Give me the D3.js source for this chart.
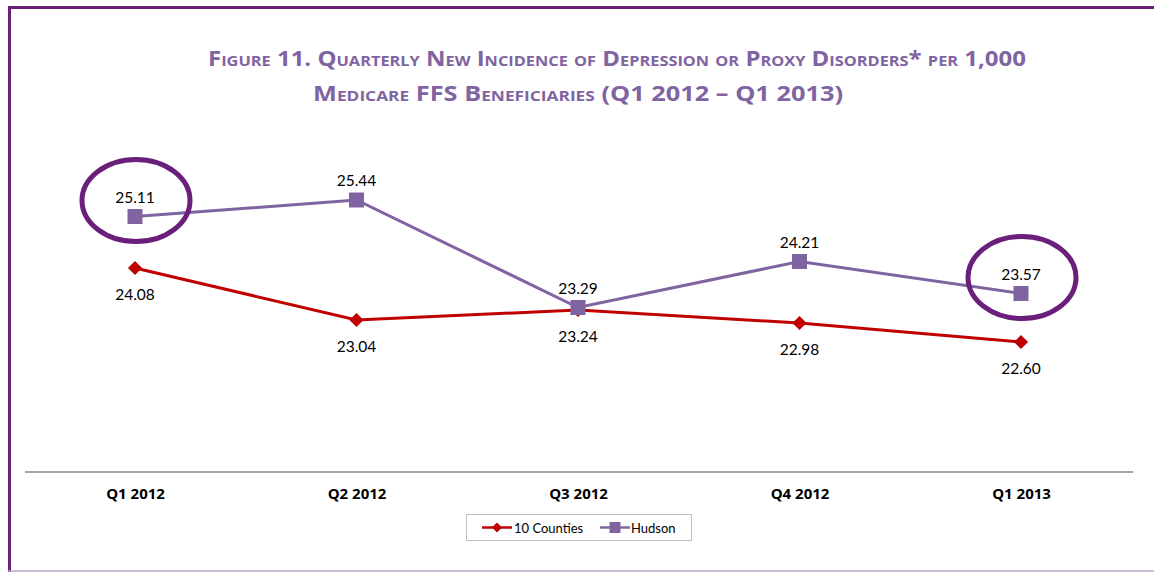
<!DOCTYPE html>
<html>
<head>
<meta charset="utf-8">
<script src="https://cdn.jsdelivr.net/npm/d3@7"></script>
<style>
  body { margin: 0; background: #fff; }
  svg { display: block; font-family: "Lato", "Open Sans", sans-serif; }
</style>
</head>
<body>
<svg width="1154" height="572"></svg>
<script>
var quarters = ["Q1 2012", "Q2 2012", "Q3 2012", "Q4 2012", "Q1 2013"];
var counties = [24.08, 23.04, 23.24, 22.98, 22.60];
var hudson = [25.11, 25.44, 23.29, 24.21, 23.57];
var titleLines = [
  "Figure 11. Quarterly New Incidence of Depression or Proxy Disorders* per 1,000",
  "Medicare FFS Beneficiaries (Q1 2012 \u2013 Q1 2013)"
];
var circled = [0, 4];

var svg = d3.select("svg");
var red = "#c00000", violet = "#8064a2", frame = "#6a1f7a";

// frame
svg.append("line").attr("x1", 8).attr("x2", 1154).attr("y1", 7.5).attr("y2", 7.5)
  .attr("stroke", frame).attr("stroke-width", 3);
svg.append("line").attr("x1", 9.5).attr("x2", 9.5).attr("y1", 6).attr("y2", 572)
  .attr("stroke", frame).attr("stroke-width", 3);
svg.append("line").attr("x1", 8).attr("x2", 1154).attr("y1", 571).attr("y2", 571)
  .attr("stroke", "#b9a3c4").attr("stroke-width", 1.5);

// title
svg.append("g").selectAll("text").data(titleLines).enter().append("text")
  .attr("x", function(d, i) { return i == 0 ? 617 : 578; })
  .attr("y", function(d, i) { return 66 + i * 35; })
  .attr("text-anchor", "middle")
  .attr("fill", violet)
  .attr("font-family", "'Open Sans', sans-serif")
  .attr("font-weight", "bold")
  .attr("font-size", 22)
  .style("font-variant", "small-caps")
  .attr("textLength", function(d, i) { return i == 0 ? 818 : 530; })
  .attr("lengthAdjust", "spacingAndGlyphs")
  .text(function(d) { return d; });

var x = d3.scalePoint().domain(quarters).range([135, 1021]);
var y = d3.scaleLinear().domain([20, 27]).range([472, 122]);

// x axis
var xAxis = svg.append("g").attr("transform", "translate(0,472)")
  .call(d3.axisBottom(x).tickSize(0).tickPadding(16));
xAxis.select(".domain").attr("d", "M25,0H1133").attr("stroke", "#a6a6a6").attr("stroke-width", 2);
xAxis.selectAll("text").attr("font-size", 15).attr("font-weight", "bold")
  .attr("fill", "#000").attr("font-family", "'Open Sans', sans-serif");

var line = d3.line()
  .x(function(d, i) { return x(quarters[i]); })
  .y(function(d) { return y(d); });

svg.append("path").datum(counties).attr("d", line)
  .attr("fill", "none").attr("stroke", red).attr("stroke-width", 3);
svg.append("path").datum(hudson).attr("d", line)
  .attr("fill", "none").attr("stroke", violet).attr("stroke-width", 3);

svg.append("g").selectAll("path").data(counties).enter().append("path")
  .attr("d", d3.symbol(d3.symbolSquare, 100))
  .attr("transform", function(d, i) { return "translate(" + x(quarters[i]) + "," + y(d) + ") rotate(45)"; })
  .attr("fill", red);
svg.append("g").selectAll("rect").data(hudson).enter().append("rect")
  .attr("x", function(d, i) { return x(quarters[i]) - 7.5; })
  .attr("y", function(d) { return y(d) - 7.5; })
  .attr("width", 15).attr("height", 15)
  .attr("fill", violet);

// data labels
svg.append("g").selectAll("text").data(hudson).enter().append("text")
  .attr("x", function(d, i) { return x(quarters[i]); })
  .attr("y", function(d) { return y(d) - 14; })
  .attr("text-anchor", "middle").attr("font-size", 15.5).attr("fill", "#000")
  .text(function(d) { return d.toFixed(2); });
svg.append("g").selectAll("text").data(counties).enter().append("text")
  .attr("x", function(d, i) { return x(quarters[i]); })
  .attr("y", function(d) { return y(d) + 32; })
  .attr("text-anchor", "middle").attr("font-size", 15.5).attr("fill", "#000")
  .text(function(d) { return d.toFixed(2); });

// highlight ellipses
svg.append("g").selectAll("ellipse").data(circled).enter().append("ellipse")
  .attr("cx", function(i) { return x(quarters[i]) + 1; })
  .attr("cy", function(i) { return y(hudson[i]) - 16; })
  .attr("rx", 54).attr("ry", 41)
  .attr("fill", "none").attr("stroke", frame).attr("stroke-width", 5);

// legend
var lg = svg.append("g").attr("transform", "translate(466,514)");
lg.append("rect").attr("x", 0.5).attr("y", 0.5).attr("width", 225).attr("height", 26)
  .attr("fill", "#fff").attr("stroke", "#bfbfbf");
lg.append("line").attr("x1", 16).attr("x2", 46).attr("y1", 13.5).attr("y2", 13.5)
  .attr("stroke", red).attr("stroke-width", 2.5);
lg.append("path").attr("d", d3.symbol(d3.symbolSquare, 50))
  .attr("transform", "translate(31,13.5) rotate(45)").attr("fill", red);
lg.append("text").attr("x", 48).attr("y", 18.5).attr("font-size", 13).text("10 Counties");
lg.append("line").attr("x1", 134).attr("x2", 164).attr("y1", 13.5).attr("y2", 13.5)
  .attr("stroke", violet).attr("stroke-width", 2.5);
lg.append("rect").attr("x", 143.5).attr("y", 8).attr("width", 11).attr("height", 11).attr("fill", violet);
lg.append("text").attr("x", 165).attr("y", 18.5).attr("font-size", 13).text("Hudson");
</script>
</body>
</html>
